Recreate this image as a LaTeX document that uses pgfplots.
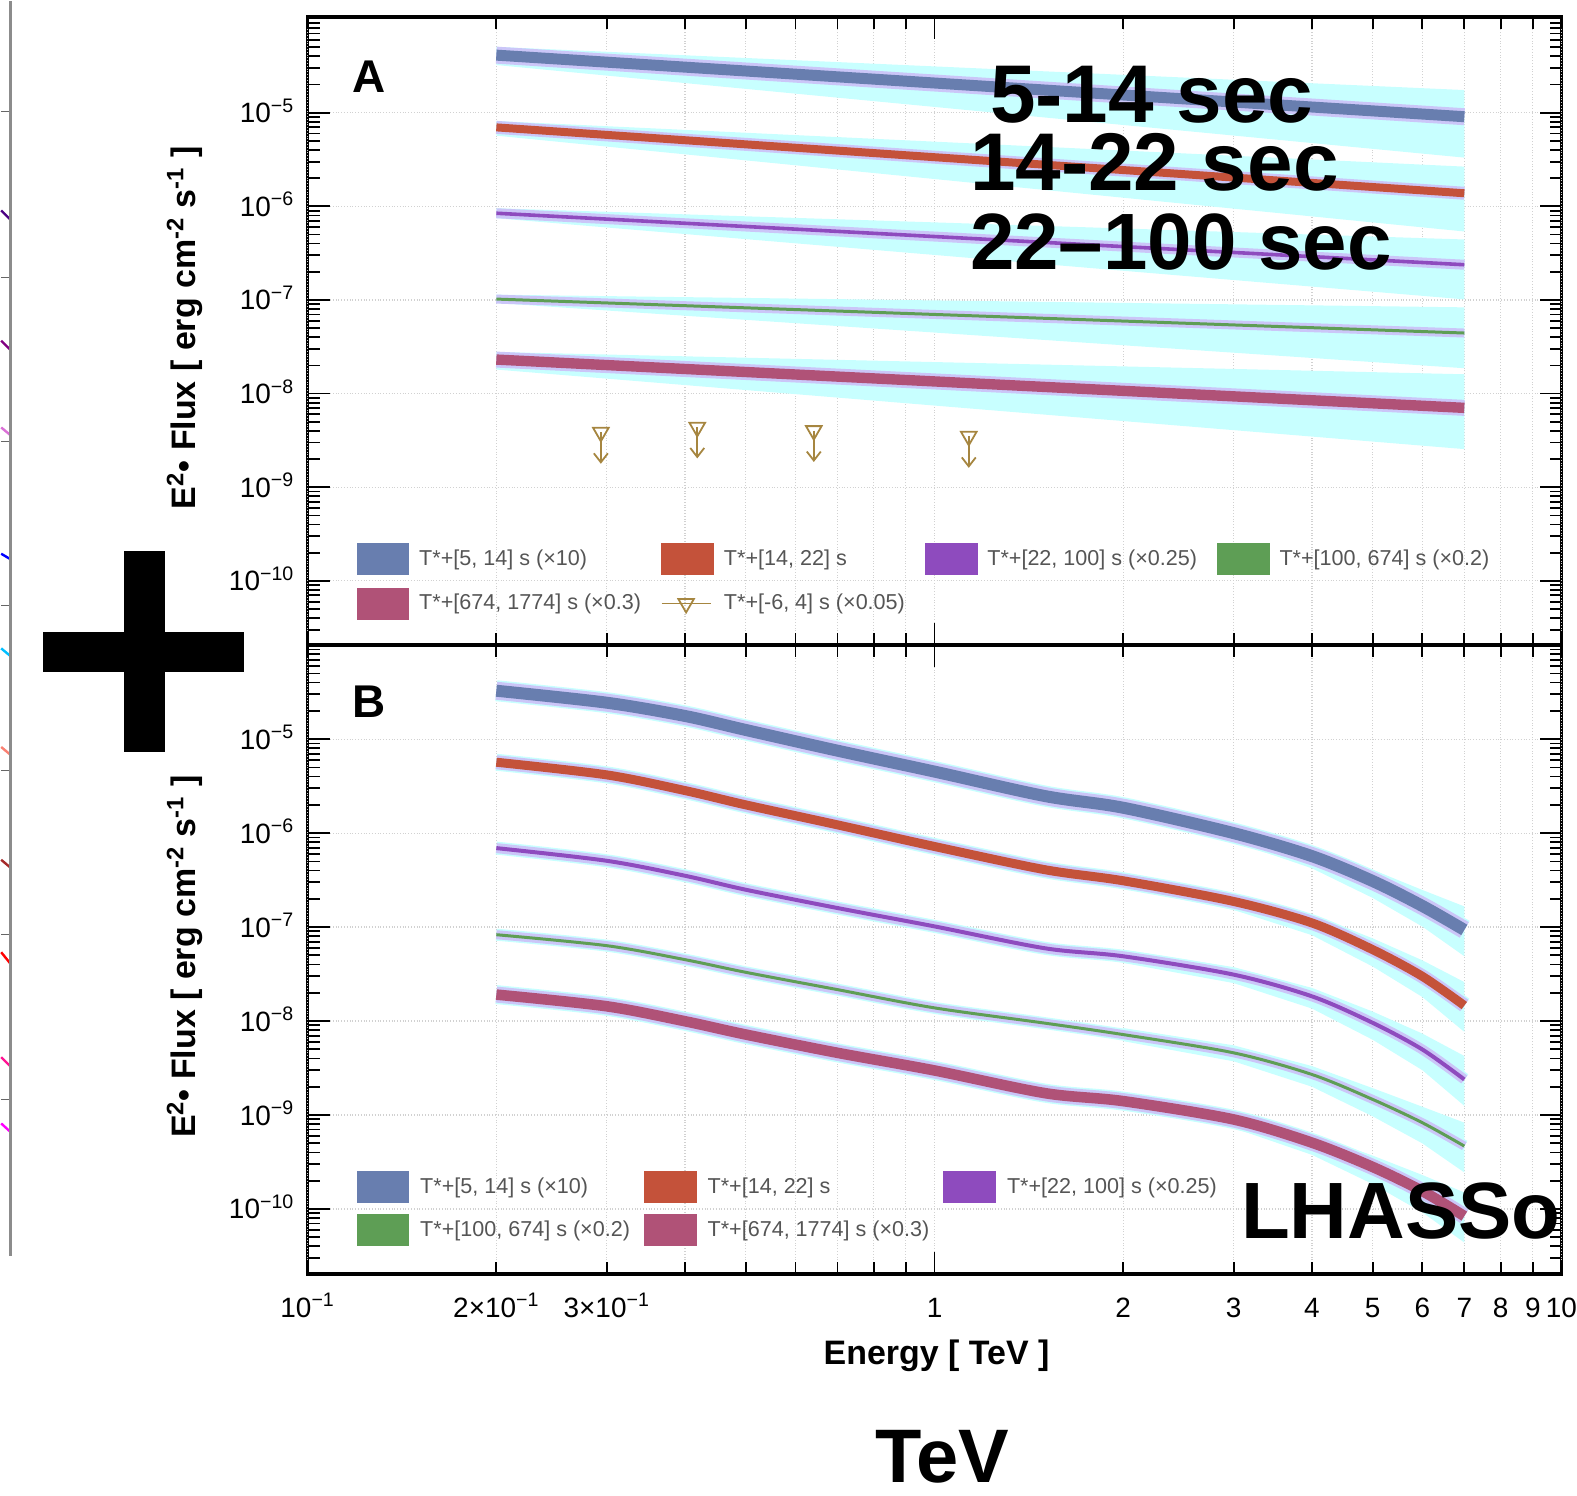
\documentclass[border=0pt]{standalone}
\usepackage{fontspec}
\setmainfont{Liberation Sans}
\usepackage{pgfplots}
\pgfplotsset{compat=1.18}
\usetikzlibrary{arrows.meta}

\definecolor{cBlue}{RGB}{104,126,175}
\definecolor{cRed}{RGB}{196,82,58}
\definecolor{cPurp}{RGB}{142,75,190}
\definecolor{cGreen}{RGB}{94,158,85}
\definecolor{cMag}{RGB}{176,82,119}
\definecolor{cLav}{RGB}{203,198,248}
\definecolor{cCyan}{RGB}{200,255,255}
\definecolor{cGold}{RGB}{166,134,64}
\definecolor{cLegTxt}{RGB}{85,85,85}
\definecolor{lIndigo}{RGB}{75,0,130}
\definecolor{lPurple}{RGB}{128,0,128}
\definecolor{lOrchid}{RGB}{218,112,214}
\definecolor{lBlue}{RGB}{0,0,255}
\definecolor{lSky}{RGB}{0,191,255}
\definecolor{lSalmon}{RGB}{250,128,114}
\definecolor{lBrown}{RGB}{165,42,42}
\definecolor{lRed}{RGB}{255,0,0}
\definecolor{lDeepPink}{RGB}{255,20,147}
\definecolor{lMagenta}{RGB}{255,0,255}

\newcommand{\tickfont}{\fontsize{14pt}{16pt}\selectfont}
\newcommand{\legfont}{\fontsize{10.8pt}{13pt}\selectfont}
\newcommand{\labfont}{\fontsize{17pt}{20pt}\selectfont\bfseries}
\newcommand{\ylab}{E\textsuperscript{2}• Flux [ erg cm\textsuperscript{-2} s\textsuperscript{-1} ]}

\pgfplotsset{
  panel/.style={
    scale only axis, width=628pt,
    xmin=0.1, xmax=10,
    axis line style={line width=1.8pt, black},
    tick style={line width=0.9pt, black},
    major tick length=11pt, minor tick length=6pt,
    xtick={1}, minor xtick={0.4,0.5,0.6,0.7,0.8,0.9},
    extra x ticks={0.1,0.2,0.3,2,3,4,5,6,7,8,9,10},
    extra x tick style={major tick length=6pt, grid=major},
    ytick={1e-10,1e-9,1e-8,1e-7,1e-6,1e-5},
    minor ytick={2e-11,3e-11,4e-11,5e-11,6e-11,7e-11,8e-11,9e-11,
      2e-10,3e-10,4e-10,5e-10,6e-10,7e-10,8e-10,9e-10,
      2e-9,3e-9,4e-9,5e-9,6e-9,7e-9,8e-9,9e-9,
      2e-8,3e-8,4e-8,5e-8,6e-8,7e-8,8e-8,9e-8,
      2e-7,3e-7,4e-7,5e-7,6e-7,7e-7,8e-7,9e-7,
      2e-6,3e-6,4e-6,5e-6,6e-6,7e-6,8e-6,9e-6,
      2e-5,3e-5,4e-5,5e-5,6e-5,7e-5,8e-5,9e-5},
    yticklabels={10\textsuperscript{−10},10\textsuperscript{−9},10\textsuperscript{−8},10\textsuperscript{−7},10\textsuperscript{−6},10\textsuperscript{−5}},
    yticklabel style={font=\tickfont, anchor=base east, inner sep=0pt, xshift=-6.5pt, yshift=-5pt},
    xticklabel style={font=\tickfont, anchor=base, inner sep=0pt, yshift=-21.5pt},
    xmajorgrids, xminorgrids, ymajorgrids,
    major grid style={black!18, densely dotted, line width=0.6pt},
    minor grid style={black!18, densely dotted, line width=0.6pt},
    legend cell align=left,
  },
  swatch/.style={legend image code/.code={\fill[#1] (0pt,-7.75pt) rectangle (26pt,7.75pt);}},
}

% panel B spectra (E [TeV], E^2 flux)
\pgfplotstableread{
E     blue      red       purp      green     mag
0.2   3.276e-5  5.682e-6  6.928e-7  8.30e-8   1.913e-8
0.3   2.443e-5  4.166e-6  5.077e-7  6.343e-8  1.436e-8
0.4   1.764e-5  2.836e-6  3.517e-7  4.502e-8  9.95e-9
0.5   1.252e-5  1.998e-6  2.497e-7  3.301e-8  7.186e-9
0.7   7.545e-6  1.225e-6  1.596e-7  2.161e-8  4.594e-9
1.0   4.514e-6  7.204e-7  1.017e-7  1.381e-8  2.98e-9
1.5   2.48e-6   4.08e-7   5.95e-8   9.5e-9    1.71e-9
2     1.862e-6  3.11e-7   4.89e-8   7.18e-9   1.406e-9
3     1.0e-6    1.875e-7  3.12e-8   4.59e-9   8.97e-10
4     5.69e-7   1.107e-7  1.832e-8  2.70e-9   5.08e-10
5     3.09e-7   5.75e-8   9.57e-9   1.465e-9  2.80e-10
6     1.679e-7  2.99e-8   4.98e-9   8.28e-10  1.55e-10
7     9.33e-8   1.462e-8  2.39e-9   4.67e-10  8.4e-11
}\specB

\begin{document}
\begin{tikzpicture}
\begin{scope}[x=0.5pt,y=-0.5pt]
\path[use as bounding box] (0,0) rectangle (1577,1497);
\end{scope}

% partial chart cut at the left edge
\begin{axis}[at={(0pt,0pt)}, anchor=north west, scale only axis, width=4.75pt, height=628.5pt,
  xmin=0, xmax=9.5, ymin=0, ymax=1257, y dir=reverse, hide axis, clip=false]
\addplot[black!60, line width=0.6pt] coordinates {(0,110.7) (9.5,110.7)};
\addplot[black!60, line width=0.6pt] coordinates {(0,276.7) (9.5,276.7)};
\addplot[black!60, line width=0.6pt] coordinates {(0,441) (9.5,441)};
\addplot[black!60, line width=0.6pt] coordinates {(0,605.5) (9.5,605.5)};
\addplot[black!60, line width=0.6pt] coordinates {(0,770.8) (9.5,770.8)};
\addplot[black!60, line width=0.6pt] coordinates {(0,935) (9.5,935)};
\addplot[black!60, line width=0.6pt] coordinates {(0,1100) (9.5,1100)};
\addplot[lIndigo, line width=1.2pt] coordinates {(0,209.5) (9.5,219)};
\addplot[lPurple, line width=1.2pt] coordinates {(0,340) (9.5,349.4)};
\addplot[lOrchid, line width=1.2pt] coordinates {(0,426.9) (9.5,434.8)};
\addplot[lBlue, line width=1.2pt] coordinates {(0,553.4) (9.5,559)};
\addplot[lSky, line width=1.2pt] coordinates {(0,648.2) (9.5,656.1)};
\addplot[lSalmon, line width=1.2pt] coordinates {(0,747) (9.5,755)};
\addplot[lBrown, line width=1.2pt] coordinates {(0,860) (9.5,868)};
\addplot[lRed, line width=1.2pt] coordinates {(0,952.6) (9.5,964.4)};
\addplot[lDeepPink, line width=1.2pt] coordinates {(0,1057.7) (9.5,1067.2)};
\addplot[lMagenta, line width=1.2pt] coordinates {(0,1124.1) (9.5,1132.8)};
\addplot[black!45, line width=1.3pt] coordinates {(9.5,0) (9.5,1257)};
\end{axis}

% ---------------- panel A ----------------
\begin{loglogaxis}[panel, at={(153.5pt,-8pt)}, anchor=north west, height=314.5pt,
  ymin=2.056e-11, ymax=1.045e-4, xticklabels={}, extra x tick labels={},
  legend columns=4,
  legend style={at={(0.039,0.162)}, anchor=north west, draw=none, fill=none,
    inner sep=0pt, outer sep=0pt, font=\legfont, text=cLegTxt,
    row sep=6.2pt, column sep=5pt,
    /tikz/every even column/.append style={column sep=9.9pt},
    nodes={inner sep=0pt}}]
% blue  T*+[5,14] x10
\addplot[draw=none, fill=cCyan, forget plot] coordinates {(0.2,5.05e-5) (7,1.746e-5) (7,3.314e-6) (0.2,3.23e-5)};
\addplot[cLav, line width=8.5pt, forget plot] coordinates {(0.2,4.12e-5) (7,9.06e-6)};
\addplot[cBlue, line width=5.5pt, forget plot] coordinates {(0.2,4.12e-5) (7,9.06e-6)};
% red
\addplot[draw=none, fill=cCyan, forget plot] coordinates {(0.2,8.155e-6) (7,2.656e-6) (7,5.387e-7) (0.2,5.686e-6)};
\addplot[cLav, line width=6.5pt, forget plot] coordinates {(0.2,6.97e-6) (7,1.379e-6)};
\addplot[cRed, line width=4pt, forget plot] coordinates {(0.2,6.97e-6) (7,1.379e-6)};
% purple
\addplot[draw=none, fill=cCyan, forget plot] coordinates {(0.2,9.54e-7) (7,4.426e-7) (7,1.015e-7) (0.2,7.465e-7)};
\addplot[cLav, line width=5pt, forget plot] coordinates {(0.2,8.44e-7) (7,2.378e-7)};
\addplot[cPurp, line width=1.8pt, forget plot] coordinates {(0.2,8.44e-7) (7,2.378e-7)};
% green
\addplot[draw=none, fill=cCyan, forget plot] coordinates {(0.2,1.139e-7) (7,8.34e-8) (7,1.866e-8) (0.2,9.27e-8)};
\addplot[cLav, line width=4.5pt, forget plot] coordinates {(0.2,1.022e-7) (7,4.435e-8)};
\addplot[cGreen, line width=1.5pt, forget plot] coordinates {(0.2,1.022e-7) (7,4.435e-8)};
% magenta
\addplot[draw=none, fill=cCyan, forget plot] coordinates {(0.2,2.783e-8) (7,1.609e-8) (7,2.554e-9) (0.2,1.806e-8)};
\addplot[cLav, line width=8pt, forget plot] coordinates {(0.2,2.309e-8) (7,7.04e-9)};
\addplot[cMag, line width=5.2pt, forget plot] coordinates {(0.2,2.309e-8) (7,7.04e-9)};
% upper limits T*+[-6,4] x0.05
\addplot[cGold, line width=0.9pt, -{Straight Barb[length=4.5pt,width=7pt]}, forget plot] coordinates {(0.2936,3.859e-9) (0.2936,1.78e-9)};
\addplot[cGold, line width=0.9pt, -{Straight Barb[length=4.5pt,width=7pt]}, forget plot] coordinates {(0.4183,4.361e-9) (0.4183,2.03e-9)};
\addplot[cGold, line width=0.9pt, -{Straight Barb[length=4.5pt,width=7pt]}, forget plot] coordinates {(0.6418,4.022e-9) (0.6418,1.86e-9)};
\addplot[cGold, line width=0.9pt, -{Straight Barb[length=4.5pt,width=7pt]}, forget plot] coordinates {(1.134,3.497e-9) (1.134,1.61e-9)};
\addplot[cGold, only marks, mark=triangle, mark size=4.5pt, mark options={rotate=180, line width=0.9pt}, forget plot]
  coordinates {(0.2936,3.859e-9) (0.4183,4.361e-9) (0.6418,4.022e-9) (1.134,3.497e-9)};
% legend
\addlegendimage{swatch=cBlue}\addlegendentry{T*+[5, 14] s (×10)}
\addlegendimage{swatch=cRed}\addlegendentry{T*+[14, 22] s}
\addlegendimage{swatch=cPurp}\addlegendentry{T*+[22, 100] s (×0.25)}
\addlegendimage{swatch=cGreen}\addlegendentry{T*+[100, 674] s (×0.2)}
\addlegendimage{swatch=cMag}\addlegendentry{T*+[674, 1774] s (×0.3)}
\addlegendimage{legend image code/.code={\draw[cGold, line width=0.9pt] (0pt,0pt) -- (24.5pt,0pt);
  \draw[cGold, line width=0.9pt] (8.35pt,2.25pt) -- (16.15pt,2.25pt) -- (12.25pt,-4.5pt) -- cycle;}}
\addlegendentry{T*+[-6, 4] s (×0.05)}
\end{loglogaxis}

% ---------------- panel B ----------------
\begin{loglogaxis}[panel, at={(153.5pt,-322.5pt)}, anchor=north west, height=315pt,
  ymin=2.03e-11, ymax=1.0e-4, xticklabels={1},
  extra x tick labels={10\textsuperscript{−1},2×10\textsuperscript{−1},3×10\textsuperscript{−1},2,3,4,5,6,7,8,9,10},
  legend columns=3,
  legend style={at={(0.039,0.164)}, anchor=north west, draw=none, fill=none,
    inner sep=0pt, outer sep=0pt, font=\legfont, text=cLegTxt,
    row sep=5.6pt, column sep=5.5pt,
    /tikz/every even column/.append style={column sep=7pt},
    nodes={inner sep=0pt}}]
% outer (cyan) bands, visible at high energy
\addplot[draw=none, fill=cCyan, forget plot] coordinates {(2,2.188e-6) (3,1.202e-6) (4,7.00e-7) (5,4.07e-7) (6,2.483e-7) (7,1.66e-7)
  (7,4.898e-8) (6,1.012e-7) (5,2.042e-7) (4,4.217e-7) (3,8.13e-7) (2,1.585e-6)};
\addplot[draw=none, fill=cCyan, forget plot] coordinates {(2,3.656e-7) (3,2.254e-7) (4,1.361e-7) (5,7.59e-8) (6,4.43e-8) (7,2.60e-8)
  (7,7.67e-9) (6,1.803e-8) (5,3.80e-8) (4,8.20e-8) (3,1.524e-7) (2,2.649e-7)};
\addplot[draw=none, fill=cCyan, forget plot] coordinates {(2,5.74e-8) (3,3.75e-8) (4,2.254e-8) (5,1.262e-8) (6,7.36e-9) (7,4.25e-9)
  (7,1.253e-9) (6,3.0e-9) (5,6.32e-9) (4,1.358e-8) (3,2.535e-8) (2,4.159e-8)};
\addplot[draw=none, fill=cCyan, forget plot] coordinates {(2,8.43e-9) (3,5.52e-9) (4,3.32e-9) (5,1.932e-9) (6,1.225e-9) (7,8.30e-10)
  (7,2.449e-10) (6,4.99e-10) (5,9.68e-10) (4,2.0e-9) (3,3.73e-9) (2,6.11e-9)};
\addplot[draw=none, fill=cCyan, forget plot] coordinates {(2,1.652e-9) (3,1.079e-9) (4,6.25e-10) (5,3.70e-10) (6,2.30e-10) (7,1.50e-10)
  (7,4.40e-11) (6,9.2e-11) (5,1.84e-10) (4,3.767e-10) (3,7.29e-10) (2,1.197e-9)};
% blue
\addplot[cCyan, line width=10.5pt, smooth, forget plot] table[x=E, y=blue] {\specB};
\addplot[cLav, line width=9pt, smooth, forget plot] table[x=E, y=blue] {\specB};
\addplot[cBlue, line width=6pt, smooth, forget plot] table[x=E, y=blue] {\specB};
% red
\addplot[cCyan, line width=8.5pt, smooth, forget plot] table[x=E, y=red] {\specB};
\addplot[cLav, line width=7pt, smooth, forget plot] table[x=E, y=red] {\specB};
\addplot[cRed, line width=4.5pt, smooth, forget plot] table[x=E, y=red] {\specB};
% purple
\addplot[cCyan, line width=6.5pt, smooth, forget plot] table[x=E, y=purp] {\specB};
\addplot[cLav, line width=5pt, smooth, forget plot] table[x=E, y=purp] {\specB};
\addplot[cPurp, line width=2pt, smooth, forget plot] table[x=E, y=purp] {\specB};
% green
\addplot[cCyan, line width=6pt, smooth, forget plot] table[x=E, y=green] {\specB};
\addplot[cLav, line width=4.5pt, smooth, forget plot] table[x=E, y=green] {\specB};
\addplot[cGreen, line width=1.5pt, smooth, forget plot] table[x=E, y=green] {\specB};
% magenta
\addplot[cCyan, line width=9.5pt, smooth, forget plot] table[x=E, y=mag] {\specB};
\addplot[cLav, line width=8pt, smooth, forget plot] table[x=E, y=mag] {\specB};
\addplot[cMag, line width=5.3pt, smooth, forget plot] table[x=E, y=mag] {\specB};
% legend
\addlegendimage{swatch=cBlue}\addlegendentry{T*+[5, 14] s (×10)}
\addlegendimage{swatch=cRed}\addlegendentry{T*+[14, 22] s}
\addlegendimage{swatch=cPurp}\addlegendentry{T*+[22, 100] s (×0.25)}
\addlegendimage{swatch=cGreen}\addlegendentry{T*+[100, 674] s (×0.2)}
\addlegendimage{swatch=cMag}\addlegendentry{T*+[674, 1774] s (×0.3)}
\end{loglogaxis}

\begin{scope}[x=0.5pt,y=-0.5pt, every node/.style={inner sep=0pt, outer sep=0pt}]
\fill (42.2,631.6) rectangle (243.4,671.8);
\fill (122.7,551) rectangle (163.9,752);
\node[font=\fontsize{23pt}{26pt}\selectfont\bfseries] at (369,75.4) {A};
\node[font=\fontsize{23pt}{26pt}\selectfont\bfseries] at (369,702) {B};
\node[rotate=90, font=\labfont] at (184,327) {\ylab};
\node[rotate=90, font=\labfont] at (184,957) {\ylab};
\node[anchor=base, font=\labfont] at (937,1366) {Energy [ TeV ]};
\node[anchor=west, text height=29.4pt, text depth=0pt, font=\fontsize{41pt}{45pt}\selectfont\bfseries] at (990.6,92.5) {5-14 sec};
\node[anchor=west, text height=29.4pt, text depth=0pt, font=\fontsize{41pt}{45pt}\selectfont\bfseries] at (970.5,160.4) {14-22 sec};
\node[anchor=west, text height=28.7pt, text depth=0pt, font=\fontsize{40pt}{44pt}\selectfont\bfseries] at (970.5,240.4) {22–100 sec};
\node[anchor=west, font=\fontsize{40pt}{44pt}\selectfont\bfseries] at (1242,1212) {LHASSo};
\node[text height=27.2pt, text depth=0pt, font=\fontsize{38pt}{41pt}\selectfont\bfseries] at (943,1457) {TeV};
\end{scope}
\end{tikzpicture}
\end{document}
